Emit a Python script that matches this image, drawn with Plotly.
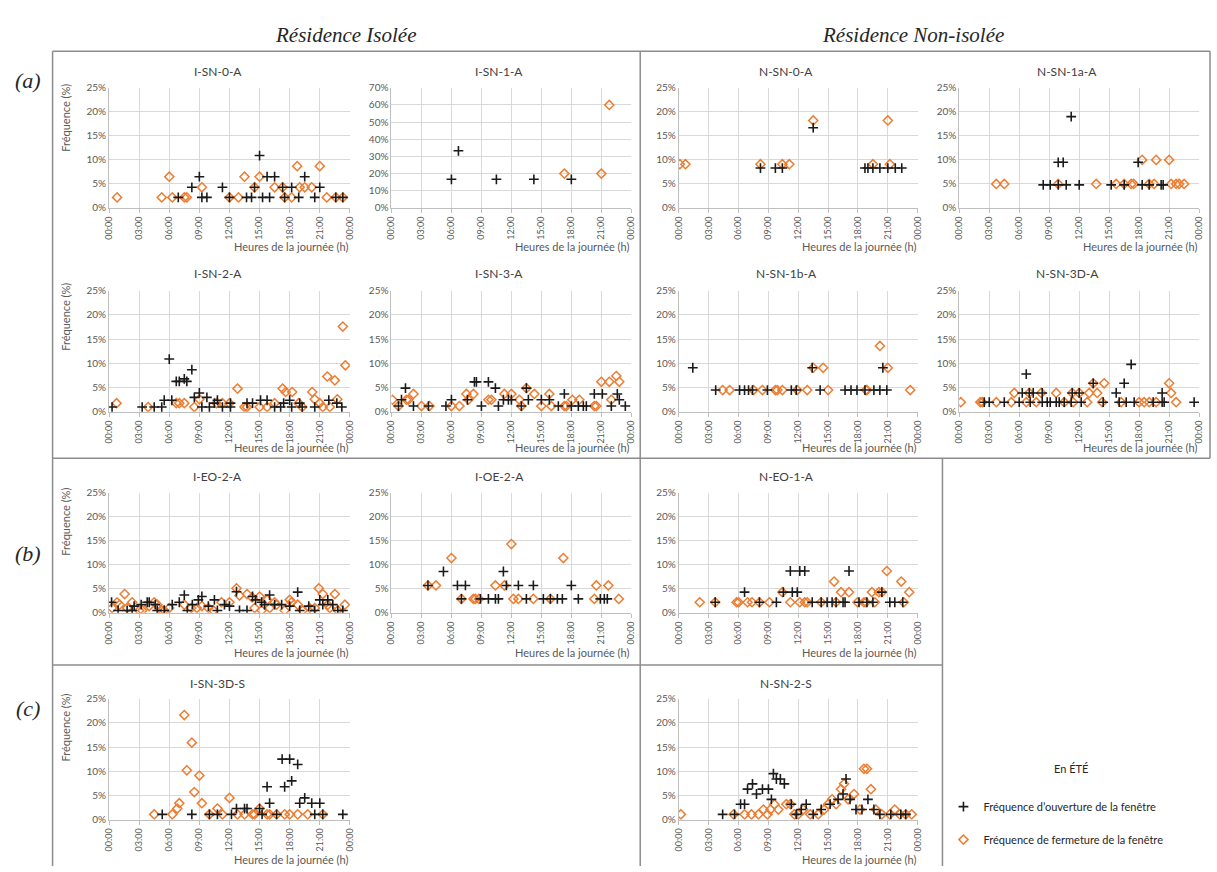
import plotly.graph_objects as go

W, H = 1217, 872

hour_ticks = [0, 3, 6, 9, 12, 15, 18, 21, 24]
hour_labels = ["00:00", "03:00", "06:00", "09:00", "12:00", "15:00", "18:00", "21:00", "00:00"]
open_name = "Fréquence d’ouverture de la fenêtre"
close_name = "Fréquence de fermeture de la fenêtre"

# ---------------- (a) Isolée ----------------
isn0_open_h = [6.9, 8.25, 9.0, 9.25, 9.75, 11.3, 12.0, 13.7, 14.2, 14.5, 15.0, 15.3, 15.75, 16.0, 16.5, 17.3, 17.5, 18.2, 18.9, 19.5, 20.5, 21.0, 22.6, 23.3]
isn0_open_v = [2.2, 4.3, 6.5, 2.2, 2.2, 4.3, 2.2, 2.2, 2.2, 4.3, 10.9, 2.2, 6.5, 2.2, 6.5, 4.3, 2.2, 4.3, 2.2, 6.5, 2.2, 4.3, 2.2, 2.2]
isn0_close_h = [0.8, 5.25, 6.0, 6.3, 7.5, 7.75, 9.25, 12.0, 12.9, 13.5, 14.5, 15.0, 16.5, 17.3, 17.5, 18.2, 18.75, 19.0, 19.5, 20.2, 21.0, 21.7, 22.6, 23.3]
isn0_close_v = [2.2, 2.2, 6.5, 2.2, 2.2, 2.2, 4.3, 2.2, 2.2, 6.5, 4.3, 6.5, 4.3, 4.3, 2.2, 2.2, 8.7, 4.3, 4.3, 4.3, 8.7, 2.2, 2.2, 2.2]

isn1_open_h = [6.0, 6.7, 10.5, 14.25, 18.0]
isn1_open_v = [16.7, 33.3, 16.7, 16.7, 16.7]
isn1_close_h = [17.3, 21.0, 21.8]
isn1_close_v = [20.0, 20.0, 60.0]

isn2_open_h = [0.3, 3.3, 4.5, 5.25, 5.5, 6.0, 6.25, 6.7, 7.0, 7.5, 7.75, 8.25, 8.5, 9.0, 9.25, 9.75, 10.0, 10.5, 10.8, 11.3, 12.1, 12.1, 13.75, 14.3, 15.1, 15.75, 16.5, 17.1, 17.4, 18.0, 18.2, 19.0, 19.25, 20.5, 21.9, 22.7, 23.2]
isn2_open_v = [1.0, 1.0, 1.0, 1.0, 2.4, 10.9, 2.4, 6.3, 6.3, 6.8, 6.3, 8.7, 3.0, 3.9, 1.0, 3.0, 1.0, 1.8, 2.4, 1.0, 1.0, 1.8, 1.8, 1.8, 2.4, 2.4, 1.0, 1.0, 1.8, 2.4, 1.0, 1.8, 1.0, 1.0, 2.4, 1.8, 1.0]
isn2_close_h = [0.75, 3.9, 6.7, 7.0, 7.5, 8.5, 9.0, 10.7, 11.3, 12.0, 12.8, 13.5, 13.75, 15.0, 15.75, 16.5, 17.3, 17.6, 18.25, 18.9, 19.25, 20.25, 20.5, 21.0, 21.3, 21.75, 22.0, 22.5, 22.75, 23.3, 23.55]
isn2_close_v = [1.8, 1.0, 1.8, 1.8, 1.8, 1.0, 2.6, 1.8, 1.8, 1.8, 4.8, 1.0, 1.0, 1.0, 1.0, 1.8, 4.8, 4.1, 4.1, 1.8, 1.0, 4.1, 2.6, 1.8, 1.0, 7.3, 1.0, 6.5, 2.6, 17.6, 9.6]

isn3_open_h = [0.7, 1.0, 1.4, 2.2, 3.7, 5.45, 6.0, 7.6, 8.3, 8.5, 9.0, 9.7, 10.4, 10.7, 11.2, 11.7, 12.0, 13.0, 13.5, 13.7, 15.0, 15.8, 16.7, 17.3, 18.0, 18.7, 19.2, 19.5, 20.3, 21.1, 22.0, 22.6, 22.8, 23.4]
isn3_open_v = [1.2, 2.5, 4.9, 1.2, 1.2, 1.2, 2.5, 2.5, 6.2, 6.2, 1.2, 6.2, 4.9, 1.2, 2.5, 2.5, 2.5, 1.2, 4.9, 2.5, 2.5, 2.5, 1.2, 3.7, 1.2, 1.2, 1.2, 1.2, 3.7, 3.7, 1.2, 3.7, 2.5, 1.2]
isn3_close_h = [0.1, 0.7, 1.5, 1.7, 2.2, 3.0, 3.8, 6.0, 6.8, 7.5, 7.7, 8.2, 9.7, 10.0, 11.3, 12.0, 12.8, 13.0, 13.5, 14.3, 15.0, 15.8, 16.0, 17.3, 17.5, 18.1, 18.8, 20.3, 20.5, 21.0, 21.8, 22.0, 22.5, 22.8]
isn3_close_v = [2.5, 1.2, 2.5, 2.5, 3.7, 1.2, 1.2, 1.2, 1.2, 3.7, 2.5, 3.7, 2.5, 2.5, 3.7, 3.7, 2.5, 1.2, 4.9, 3.7, 1.2, 3.7, 1.2, 1.2, 1.2, 2.5, 2.5, 1.2, 1.2, 6.2, 6.2, 2.5, 7.4, 6.2]

# ---------------- (a) Non-isolée ----------------
nsn0_open_h = [8.2, 9.7, 10.4, 13.5, 18.7, 19.0, 19.5, 20.2, 21.0, 21.75, 22.4]
nsn0_open_v = [8.3, 8.3, 8.3, 16.7, 8.3, 8.3, 8.3, 8.3, 8.3, 8.3, 8.3]
nsn0_close_h = [0.1, 0.66, 8.2, 10.4, 11.1, 13.5, 19.5, 21.0, 21.2]
nsn0_close_v = [9.1, 9.1, 9.1, 9.1, 9.1, 18.2, 9.1, 18.2, 9.1]

nsn1a_open_h = [8.4, 9.1, 9.9, 9.9, 10.4, 10.7, 11.2, 12.0, 15.2, 16.5, 17.9, 18.3, 19.0, 20.2, 20.4]
nsn1a_open_v = [4.8, 4.8, 4.8, 9.5, 9.5, 4.8, 19.0, 4.8, 4.8, 4.8, 9.5, 4.8, 4.8, 4.8, 4.8]
nsn1a_close_h = [3.7, 4.5, 9.9, 13.7, 15.7, 16.5, 17.2, 17.45, 18.3, 19.0, 19.5, 19.7, 21.0, 21.2, 21.7, 22.0, 22.5]
nsn1a_close_v = [5.0, 5.0, 5.0, 5.0, 5.0, 5.0, 5.0, 5.0, 10.0, 5.0, 5.0, 10.0, 10.0, 5.0, 5.0, 5.0, 5.0]

nsn1b_open_h = [1.4, 3.7, 6.1, 6.6, 7.0, 7.4, 8.9, 11.3, 11.8, 13.4, 14.2, 16.7, 17.3, 17.9, 18.7, 19.6, 20.2, 20.5, 20.9]
nsn1b_open_v = [9.1, 4.5, 4.5, 4.5, 4.5, 4.5, 4.5, 4.5, 4.5, 9.1, 4.5, 4.5, 4.5, 4.5, 4.5, 4.5, 4.5, 9.1, 4.5]
nsn1b_close_h = [4.4, 5.1, 7.5, 8.4, 9.7, 9.9, 10.4, 11.9, 12.9, 13.5, 14.5, 15.0, 18.8, 18.9, 20.2, 21.0, 23.25]
nsn1b_close_v = [4.5, 4.5, 4.5, 4.5, 4.5, 4.5, 4.5, 4.5, 4.5, 9.1, 9.1, 4.5, 4.5, 4.5, 13.6, 9.1, 4.5]

nsn3d_open_h = [2.5, 3.0, 4.5, 6.0, 6.3, 6.7, 7.0, 7.1, 7.4, 8.3, 8.3, 8.8, 9.1, 9.7, 10.0, 10.5, 11.2, 11.3, 12.0, 12.2, 13.4, 14.4, 15.7, 16.0, 16.5, 16.7, 17.2, 17.5, 19.4, 20.3, 20.3, 20.5, 23.5]
nsn3d_open_v = [2.0, 2.0, 2.0, 2.0, 3.9, 7.8, 3.9, 2.0, 3.9, 2.0, 3.9, 2.0, 2.0, 2.0, 2.0, 2.0, 2.0, 3.9, 3.9, 2.0, 5.9, 2.0, 3.9, 2.0, 5.9, 2.0, 9.8, 2.0, 2.0, 2.0, 3.9, 2.0, 2.0]
nsn3d_close_h = [0.15, 2.1, 2.3, 3.7, 5.2, 5.5, 6.7, 7.0, 7.7, 8.2, 9.7, 10.5, 11.3, 11.4, 12.0, 12.8, 13.0, 13.4, 13.8, 14.3, 14.5, 16.2, 18.0, 18.5, 19.0, 19.7, 21.0, 21.2, 21.7]
nsn3d_close_v = [2.0, 2.0, 2.0, 2.0, 2.0, 3.9, 2.0, 3.9, 2.0, 3.9, 3.9, 2.0, 3.9, 2.0, 3.9, 2.0, 3.9, 5.9, 3.9, 2.0, 5.9, 2.0, 2.0, 2.0, 2.0, 2.0, 5.9, 3.9, 2.0]

# ---------------- (b) ----------------
ieo2_open_h = [0.25, 0.9, 1.8, 2.3, 2.5, 3.2, 3.8, 4.0, 4.6, 4.8, 5.5, 6.3, 7.0, 7.5, 7.8, 8.3, 8.9, 9.25, 9.9, 10.5, 10.8, 11.5, 12.0, 12.7, 13.0, 13.75, 14.3, 14.6, 15.2, 15.5, 16.0, 16.5, 17.2, 18.0, 18.8, 19.0, 19.9, 20.5, 21.0, 21.3, 21.8, 22.3, 22.8, 23.3]
ieo2_open_v = [2.2, 0.5, 0.5, 0.5, 1.4, 1.7, 2.2, 2.2, 1.7, 0.5, 0.5, 1.7, 2.2, 3.7, 0.5, 1.7, 2.7, 3.4, 1.4, 2.7, 0.5, 1.7, 1.4, 4.4, 0.5, 0.5, 3.4, 2.7, 2.2, 1.7, 3.7, 1.7, 1.7, 1.4, 4.3, 0.5, 1.4, 0.5, 2.7, 1.7, 2.7, 1.7, 0.5, 0.5]
ieo2_close_h = [0.3, 0.8, 1.05, 1.55, 1.8, 2.3, 3.0, 3.3, 4.0, 4.5, 4.8, 5.25, 5.5, 6.0, 7.5, 8.2, 8.75, 9.25, 9.9, 10.4, 11.2, 12.0, 12.7, 13.0, 13.75, 14.25, 14.5, 15.0, 15.2, 15.75, 16.0, 16.5, 16.7, 17.5, 18.0, 18.2, 18.8, 19.3, 20.0, 20.5, 20.9, 21.3, 21.8, 22.0, 22.5, 22.8, 23.5]
ieo2_close_v = [1.0, 2.2, 1.7, 3.9, 1.0, 2.2, 0.5, 0.5, 1.4, 2.2, 1.7, 0.5, 0.5, 1.0, 1.7, 1.0, 1.0, 1.4, 1.0, 0.5, 2.2, 2.2, 5.1, 3.6, 3.9, 3.2, 1.0, 3.4, 0.5, 2.7, 1.0, 2.2, 1.7, 0.5, 2.7, 2.2, 1.7, 0.5, 1.0, 1.0, 5.1, 3.9, 1.7, 1.0, 3.9, 0.5, 1.7]

ioe2_open_h = [3.65, 5.2, 6.6, 7.0, 7.4, 8.9, 9.7, 10.4, 10.7, 11.2, 11.5, 12.7, 13.5, 14.2, 15.2, 15.9, 16.6, 17.1, 18.0, 18.7, 20.9, 21.3, 21.6]
ioe2_open_v = [5.7, 8.6, 5.7, 2.9, 5.7, 2.9, 2.9, 2.9, 2.9, 8.6, 5.7, 5.7, 2.9, 5.7, 2.9, 2.9, 2.9, 2.9, 5.7, 2.9, 2.9, 2.9, 2.9]
ioe2_close_h = [3.65, 4.45, 6.0, 7.0, 8.2, 8.4, 8.75, 10.4, 11.3, 12.0, 12.2, 12.7, 14.2, 15.9, 17.2, 20.3, 20.5, 21.7, 22.75]
ioe2_close_v = [5.7, 5.7, 11.4, 2.9, 2.9, 2.9, 2.9, 5.7, 5.7, 14.3, 2.9, 2.9, 2.9, 2.9, 11.4, 2.9, 5.7, 5.7, 2.9]

neo1_open_h = [3.65, 6.6, 8.1, 9.8, 10.5, 11.2, 11.4, 11.9, 12.15, 12.65, 13.4, 14.3, 14.9, 15.4, 15.8, 16.5, 16.7, 17.1, 18.1, 18.9, 19.5, 20.4, 21.2, 21.7, 22.5]
neo1_open_v = [2.2, 4.3, 2.2, 2.2, 4.3, 8.7, 4.3, 4.3, 8.7, 8.7, 2.2, 2.2, 2.2, 2.2, 2.2, 2.2, 2.2, 8.7, 2.2, 2.2, 2.2, 4.3, 2.2, 2.2, 2.2]
neo1_close_h = [2.1, 3.65, 5.8, 6.0, 6.9, 7.35, 8.1, 9.1, 10.4, 11.2, 12.15, 12.65, 12.9, 14.3, 15.6, 15.8, 16.3, 17.1, 17.95, 18.6, 18.8, 19.4, 19.7, 20.1, 20.4, 20.9, 22.35, 22.6, 23.15]
neo1_close_v = [2.2, 2.2, 2.2, 2.2, 2.2, 2.2, 2.2, 2.2, 4.3, 2.2, 2.2, 2.2, 2.2, 2.2, 6.5, 2.2, 4.3, 4.3, 2.2, 2.2, 2.2, 4.3, 2.2, 4.3, 4.3, 8.7, 6.5, 2.2, 4.3]

# ---------------- (c) ----------------
isn3ds_open_h = [5.3, 8.25, 10.0, 10.8, 12.2, 12.7, 13.5, 13.75, 15.0, 15.25, 15.75, 16.0, 16.7, 17.25, 17.5, 18.0, 18.2, 18.8, 19.0, 19.5, 20.2, 20.5, 21.0, 21.3, 23.3]
isn3ds_open_v = [1.1, 1.1, 1.1, 1.1, 1.1, 2.3, 2.3, 2.3, 2.3, 1.1, 6.8, 3.4, 1.1, 12.5, 6.8, 12.5, 8.0, 11.4, 3.4, 4.5, 3.4, 1.1, 3.4, 1.1, 1.1]
isn3ds_close_h = [4.5, 6.3, 6.8, 7.0, 7.5, 7.75, 8.25, 8.5, 9.0, 9.25, 10.0, 10.8, 11.3, 12.0, 12.8, 13.5, 14.3, 14.5, 15.0, 15.75, 16.0, 16.7, 17.5, 18.0, 18.8, 19.8, 21.3]
isn3ds_close_v = [1.1, 1.1, 2.3, 3.4, 21.6, 10.2, 15.9, 5.7, 9.1, 3.4, 1.1, 2.3, 1.1, 4.5, 1.1, 1.1, 1.1, 1.1, 2.3, 1.1, 1.1, 1.1, 1.1, 1.1, 1.1, 1.1, 1.1]

nsn2s_open_h = [4.4, 5.6, 6.2, 6.6, 6.9, 7.4, 7.8, 8.4, 9.0, 9.3, 9.5, 9.8, 10.2, 10.6, 11.3, 11.8, 12.3, 12.8, 13.5, 14.3, 15.2, 16.0, 16.5, 16.8, 17.2, 17.8, 18.4, 19.0, 19.6, 20.2, 21.3, 22.3, 22.8]
nsn2s_open_v = [1.1, 1.1, 3.2, 3.2, 6.3, 7.4, 5.3, 6.3, 6.3, 4.2, 9.5, 8.4, 8.4, 7.4, 3.2, 1.1, 2.1, 3.2, 1.1, 2.1, 3.2, 4.2, 5.3, 8.4, 4.2, 2.1, 2.1, 4.2, 2.1, 1.1, 1.1, 1.1, 1.1]
nsn2s_close_h = [0.2, 5.5, 6.6, 7.3, 8.0, 8.5, 8.9, 9.2, 9.6, 10.0, 10.8, 11.2, 11.6, 12.0, 12.5, 13.2, 14.0, 14.6, 15.0, 15.4, 15.8, 16.3, 16.6, 17.0, 17.6, 18.2, 18.6, 18.9, 19.3, 19.8, 20.4, 21.2, 21.7, 22.2, 22.8, 23.4]
nsn2s_close_v = [1.1, 1.1, 1.1, 1.1, 1.1, 2.1, 1.1, 2.1, 3.2, 2.1, 3.2, 3.2, 1.1, 1.1, 2.1, 1.1, 1.1, 2.1, 3.2, 4.2, 3.2, 6.3, 7.4, 4.2, 5.3, 2.1, 10.5, 10.5, 6.3, 2.1, 1.1, 1.1, 2.1, 1.1, 1.1, 1.1]

# ---------------- layout geometry (pixels) ----------------
COLS = [(104, 347), (389, 631), (679, 920), (962, 1204)]
ROWS = [(82, 204), (288, 411), (493, 615), (702, 825)]
TITLE_Y = [65, 271, 477, 687]
XTITLE_Y = [243, 447, 655, 865]
YTITLE_Y = [112, 314, 522, 731]

charts = [
    ("I-SN-0-A", 0, 0, isn0_open_h, isn0_open_v, isn0_close_h, isn0_close_v, 25, 5),
    ("I-SN-1-A", 0, 1, isn1_open_h, isn1_open_v, isn1_close_h, isn1_close_v, 70, 10),
    ("N-SN-0-A", 0, 2, nsn0_open_h, nsn0_open_v, nsn0_close_h, nsn0_close_v, 25, 5),
    ("N-SN-1a-A", 0, 3, nsn1a_open_h, nsn1a_open_v, nsn1a_close_h, nsn1a_close_v, 25, 5),
    ("I-SN-2-A", 1, 0, isn2_open_h, isn2_open_v, isn2_close_h, isn2_close_v, 25, 5),
    ("I-SN-3-A", 1, 1, isn3_open_h, isn3_open_v, isn3_close_h, isn3_close_v, 25, 5),
    ("N-SN-1b-A", 1, 2, nsn1b_open_h, nsn1b_open_v, nsn1b_close_h, nsn1b_close_v, 25, 5),
    ("N-SN-3D-A", 1, 3, nsn3d_open_h, nsn3d_open_v, nsn3d_close_h, nsn3d_close_v, 25, 5),
    ("I-EO-2-A", 2, 0, ieo2_open_h, ieo2_open_v, ieo2_close_h, ieo2_close_v, 25, 5),
    ("I-OE-2-A", 2, 1, ioe2_open_h, ioe2_open_v, ioe2_close_h, ioe2_close_v, 25, 5),
    ("N-EO-1-A", 2, 2, neo1_open_h, neo1_open_v, neo1_close_h, neo1_close_v, 25, 5),
    ("I-SN-3D-S", 3, 0, isn3ds_open_h, isn3ds_open_v, isn3ds_close_h, isn3ds_close_v, 25, 5),
    ("N-SN-2-S", 3, 2, nsn2s_open_h, nsn2s_open_v, nsn2s_close_h, nsn2s_close_v, 25, 5),
]


def fx(px):
    return px / W


def fy(py):
    return 1 - py / H


FONT = "Lato, 'Open Sans', sans-serif"
GRID = "#D9D9D9"
AXIS = "#BFBFBF"
TICKC = "#595959"
ORANGE = "#ED7D31"

fig = go.Figure()
annotations = []
layout_axes = {}

for i, (name, r, c, oh, ov, ch, cv, ymax, dt) in enumerate(charts):
    sfx = "" if i == 0 else str(i + 1)
    x0, x1 = COLS[c]
    y0, y1 = ROWS[r]
    fig.add_trace(go.Scatter(
        x=ch, y=cv, mode="markers", name=close_name, legendrank=2, legendgroup="close",
        showlegend=(i == 0), xaxis="x" + sfx, yaxis="y" + sfx,
        marker=dict(symbol="diamond-open", size=7, color=ORANGE, line=dict(width=1.5, color=ORANGE)),
        hoverinfo="x+y"))
    fig.add_trace(go.Scatter(
        x=oh, y=ov, mode="markers", name=open_name, legendrank=1, legendgroup="open",
        showlegend=(i == 0), xaxis="x" + sfx, yaxis="y" + sfx,
        marker=dict(symbol="cross-thin", size=7, color="#1a1a1a", line=dict(width=1.6, color="#1a1a1a")),
        hoverinfo="x+y"))
    layout_axes["xaxis" + sfx] = dict(
        domain=[fx(x0), fx(x1)], anchor="y" + sfx, range=[0, 24],
        tickvals=hour_ticks, ticktext=hour_labels, tickangle=-90,
        tickfont=dict(size=9, color=TICKC, family=FONT),
        showgrid=True, gridcolor=GRID, gridwidth=1, zeroline=False,
        showline=True, linecolor=AXIS, linewidth=1, ticks="outside", ticklen=4, tickcolor=AXIS,
        fixedrange=True)
    layout_axes["yaxis" + sfx] = dict(
        domain=[fy(y1), fy(y0)], anchor="x" + sfx, range=[0, ymax], dtick=dt, tick0=0,
        ticksuffix="%", tickfont=dict(size=10, color=TICKC, family=FONT),
        showgrid=True, gridcolor=GRID, gridwidth=1, zeroline=False,
        showline=True, linecolor=AXIS, linewidth=1, ticks="", fixedrange=True)
    annotations.append(dict(x=fx((x0 + x1) / 2 - 12), y=fy(TITLE_Y[r]), xref="paper", yref="paper",
                            text=name, showarrow=False, xanchor="center", yanchor="middle",
                            font=dict(size=12, color="#404040", family=FONT)))
    annotations.append(dict(x=fx(x1), y=fy(XTITLE_Y[r]), xref="paper", yref="paper",
                            text="Heures de la journée (h)", showarrow=False, xanchor="right",
                            yanchor="middle", font=dict(size=11, color=TICKC, family=FONT)))
    if c == 0:
        annotations.append(dict(x=fx(60), y=fy(YTITLE_Y[r]), xref="paper", yref="paper",
                                text="Fréquence (%)", showarrow=False, textangle=-90,
                                xanchor="center", yanchor="middle",
                                font=dict(size=11, color=TICKC, family=FONT)))

SERIF = "'Liberation Serif', 'DejaVu Serif', serif"
for txt, px, py, sz in [("<i>Résidence Isolée</i>", 343, 28, 21),
                        ("<i>Résidence Non-isolée</i>", 915, 28, 21),
                        ("<i>(a)</i>", 22, 75, 22), ("<i>(b)</i>", 22, 555, 22),
                        ("<i>(c)</i>", 22, 712, 22)]:
    annotations.append(dict(x=fx(px), y=fy(py), xref="paper", yref="paper", text=txt,
                            showarrow=False, xanchor="center", yanchor="middle",
                            font=dict(size=sz, color="#262626", family=SERIF)))
annotations.append(dict(x=fx(1075), y=fy(773), xref="paper", yref="paper", text="En ÉTÉ",
                        showarrow=False, xanchor="center", yanchor="middle",
                        font=dict(size=11, color="#262626", family=FONT)))

LINE = dict(color="#8C8C8C", width=1.5)
shapes = [
    dict(type="line", xref="paper", yref="paper", x0=fx(47), x1=fx(1215), y0=fy(45), y1=fy(45), line=LINE),
    dict(type="line", xref="paper", yref="paper", x0=fx(1215), x1=fx(1215), y0=fy(45), y1=fy(458), line=LINE),
    dict(type="line", xref="paper", yref="paper", x0=fx(47), x1=fx(1215), y0=fy(458), y1=fy(458), line=LINE),
    dict(type="line", xref="paper", yref="paper", x0=fx(47), x1=fx(47), y0=fy(45), y1=fy(872), line=LINE),
    dict(type="line", xref="paper", yref="paper", x0=fx(640), x1=fx(640), y0=fy(45), y1=fy(872), line=LINE),
    dict(type="line", xref="paper", yref="paper", x0=fx(945), x1=fx(945), y0=fy(458), y1=fy(872), line=LINE),
    dict(type="line", xref="paper", yref="paper", x0=fx(47), x1=fx(945), y0=fy(668), y1=fy(668), line=LINE),
]

fig.update_layout(
    width=W, height=H, autosize=False,
    margin=dict(l=0, r=0, t=0, b=0),
    paper_bgcolor="white", plot_bgcolor="white",
    font=dict(family=FONT, color="#262626"),
    annotations=annotations, shapes=shapes,
    showlegend=True,
    legend=dict(x=fx(946), y=fy(797), xanchor="left", yanchor="top",
                font=dict(size=11, color="#262626", family=FONT),
                bgcolor="rgba(0,0,0,0)", tracegroupgap=14, traceorder="grouped",
                itemclick=False, itemdoubleclick=False),
    **layout_axes,
)

fig.write_html("out.html", config={"displayModeBar": False},
               post_script="document.body.style.margin='0';")
